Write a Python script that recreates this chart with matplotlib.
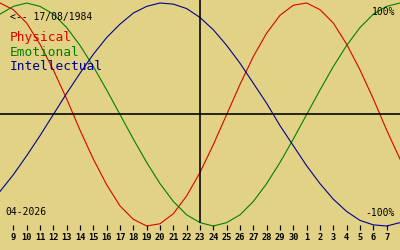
import matplotlib
matplotlib.use('Agg')
import matplotlib.pyplot as plt

# Biorhythm values (%), one per day, 8 April .. 8 May 2026
days = list(range(8, 39))
physical = [100, 94, 82, 63, 40, 14, -14, -40, -63, -82, -94, -100, -98, -89, -73,
            -52, -27, 0, 27, 52, 73, 89, 98, 100, 94, 82, 63, 40, 14, -14, -40]
emotional = [90, 97, 100, 97, 90, 78, 62, 43, 22, 0, -22, -43, -62, -78, -90,
             -97, -100, -97, -90, -78, -62, -43, -22, 0, 22, 43, 62, 78, 90, 97, 100]
intellectual = [-69, -54, -37, -19, 0, 19, 37, 54, 69, 81, 91, 97, 100, 99, 95,
                87, 76, 62, 46, 28, 10, -10, -28, -46, -62, -76, -87, -95, -99, -100, -97]

tick_days = list(range(9, 38))
tick_labels = [str(d) for d in range(9, 31)] + [str(d) for d in range(1, 8)]
today = 23
birth_label = '<-- 17/08/1984'
month_label = '04-2026'

BG = '#e1d285'
RED = '#dd0000'
GREEN = '#008000'
BLUE = '#000090'
PX = 0.72  # one pixel in points at dpi 100


def main():
    fig = plt.figure(figsize=(4, 2.5), dpi=100, facecolor=BG)
    ax = fig.add_axes([0, 20 / 250, 1, 230 / 250])
    ax.set_facecolor(BG)
    ax.set_xlim(8, 38)
    ax.set_ylim(-103.6, 102.7)
    for s in ax.spines.values():
        s.set_visible(False)

    ax.plot(days, physical, color=RED, lw=1.1 * PX)
    ax.plot(days, emotional, color=GREEN, lw=1.1 * PX)
    ax.plot(days, intellectual, color=BLUE, lw=1.1 * PX)

    ax.axhline(0, color='black', lw=1.6 * PX)
    ax.axvline(today, ymin=0.035, ymax=1, color='black', lw=1.6 * PX)

    ax.set_yticks([])
    ax.set_xticks(tick_days)
    ax.set_xticklabels(tick_labels, family='DejaVu Sans Mono', fontweight='bold',
                       fontsize=6.2)
    ax.tick_params(axis='x', direction='in', length=5 * PX, width=1.2 * PX,
                   color='black', pad=2.5)

    small = dict(family='DejaVu Sans Mono', fontsize=7.0, color='black', va='center')
    big = dict(family='DejaVu Sans Mono', fontsize=9.3, va='center')
    fig.text(10 / 400, 1 - 17 / 250, birth_label, ha='left', **small)
    fig.text(10 / 400, 1 - 38 / 250, 'Physical', ha='left', color=RED, **big)
    fig.text(10 / 400, 1 - 52.5 / 250, 'Emotional', ha='left', color=GREEN, **big)
    fig.text(10 / 400, 1 - 67 / 250, 'Intellectual', ha='left', color=BLUE, **big)
    fig.text(395 / 400, 1 - 12 / 250, '100%', ha='right', **small)
    fig.text(395 / 400, 1 - 213 / 250, '-100%', ha='right', **small)
    fig.text(5 / 400, 1 - 212 / 250, month_label, ha='left', **small)

    fig.savefig('out.png', dpi=100, facecolor=BG)


if __name__ == '__main__':
    main()
